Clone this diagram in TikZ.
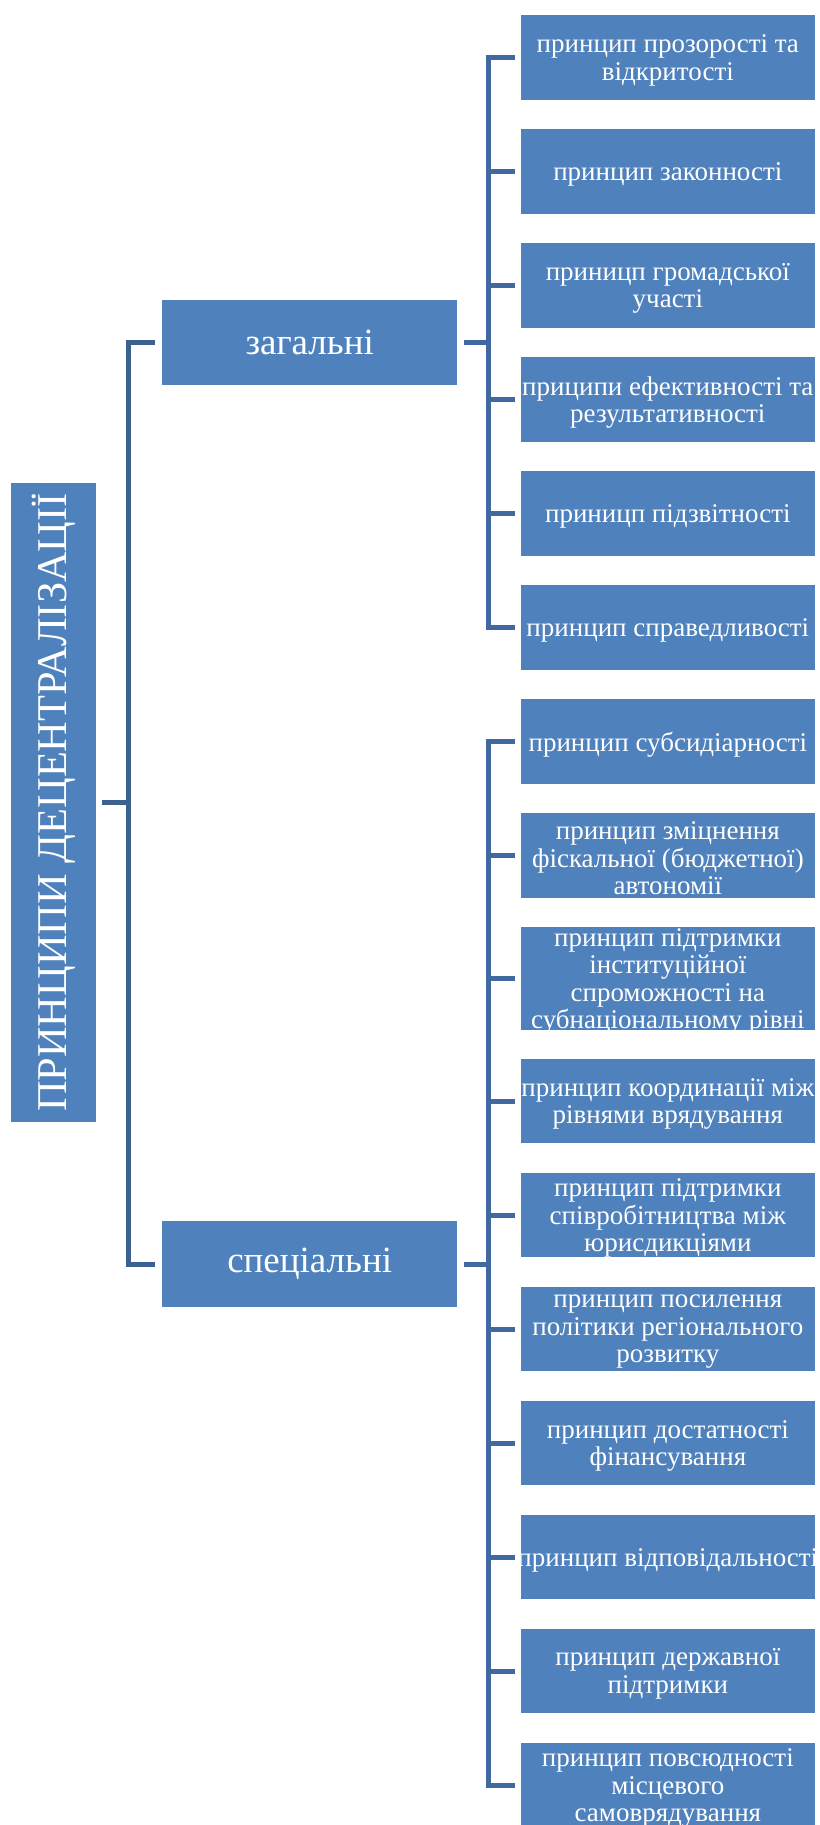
\documentclass[tikz,border=0pt]{standalone}
\usepackage{fontspec}
\setmainfont{Liberation Serif}
\definecolor{boxblue}{HTML}{4F81BD}
\definecolor{connR}{HTML}{41699F}
\definecolor{connL}{HTML}{3C6190}
\begin{document}
\begin{tikzpicture}[x=0.5pt,y=-0.5pt,
  bx/.style={fill=boxblue, draw=white, line width=0.5pt, inner sep=0pt},
  rbox/.style={bx, minimum width=147.15pt, minimum height=42.75pt},
  mbox/.style={bx, minimum width=148pt, minimum height=43.2pt},
  rtext/.style={text=white, align=center, inner sep=0pt, yshift=-1.5pt, font=\fontsize{13.5}{13.75}\selectfont},
  mtext/.style={text=white, align=center, inner sep=0pt, font=\fontsize{18.5}{20}\selectfont},
  roottext/.style={text=white, inner sep=0pt, rotate=90, font=\fontsize{21.2}{23}\selectfont},
  lconn/.style={draw=connL, line width=2.5pt},
  rconn/.style={draw=connR, line width=2.5pt}
]
\useasboundingbox (0,0) rectangle (819,1825);

% root
\node[bx, minimum width=43pt, minimum height=319.8pt] (root) at (53.3,802.5) {};
\node[roottext] at (root) {ПРИНЦИПИ ДЕЦЕНТРАЛІЗАЦІЇ};

% middle level
\node[mbox] (gen) at (309.7,342.5) {};
\node[mtext] at (gen) {загальні};
\node[mbox] (spec) at (309.7,1264) {};
\node[mtext] at (spec) {спеціальні};

% right boxes (general)
\node[rbox] (r1) at (667.85,57.5) {};
\node[rtext] at (r1) {принцип прозорості та\\відкритості};
\node[rbox] (r2) at (667.85,171.5) {};
\node[rtext] at (r2) {принцип законності};
\node[rbox] (r3) at (667.85,285.5) {};
\node[rtext] at (r3) {приницп громадської\\участі};
\node[rbox] (r4) at (667.85,399.5) {};
\node[rtext] at (r4) {приципи ефективності та\\результативності};
\node[rbox] (r5) at (667.85,513.5) {};
\node[rtext] at (r5) {приницп підзвітності};
\node[rbox] (r6) at (667.85,627.5) {};
\node[rtext] at (r6) {принцип справедливості};

% right boxes (special)
\node[rbox] (r7) at (667.85,741.5) {};
\node[rtext] at (r7) {принцип субсидіарності};
\node[rbox] (r8) at (667.85,855.5) {};
\node[rtext] at (r8) {принцип зміцнення\\фіскальної (бюджетної)\\автономії};
\node[rbox, minimum height=51.65pt] (r9) at (667.85,978.5) {};
\node[rtext] at (r9) {принцип підтримки\\інституційної\\спроможності на\\субнаціональному рівні};
\node[rbox] (r10) at (667.85,1101) {};
\node[rtext] at (r10) {принцип координації між\\рівнями врядування};
\node[rbox] (r11) at (667.85,1215) {};
\node[rtext] at (r11) {принцип підтримки\\співробітництва між\\юрисдикціями};
\node[rbox] (r12) at (667.85,1329) {};
\node[rtext] at (r12) {принцип посилення\\політики регіонального\\розвитку};
\node[rbox] (r13) at (667.85,1443) {};
\node[rtext] at (r13) {принцип достатності\\фінансування};
\node[rbox] (r14) at (667.85,1557) {};
\node[rtext] at (r14) {принцип відповідальності};
\node[rbox] (r15) at (667.85,1671) {};
\node[rtext] at (r15) {принцип державної\\підтримки};
\node[rbox] (r16) at (667.85,1785) {};
\node[rtext] at (r16) {принцип повсюдності\\місцевого\\самоврядування};

% left connectors
\coordinate (lbus) at (128.7,803);
\draw[lconn] ([xshift=2.75pt]root.east) -- (lbus |- root.east);
\draw[lconn] ([xshift=-3pt]gen.west) -| (lbus |- spec.west) -- ([xshift=-3pt]spec.west);

% right connectors
\coordinate (rbus) at (488.5,342.5);
\draw[rconn] ([xshift=2.9pt]gen.east) -- (rbus |- gen.east);
\draw[rconn] ([xshift=-2.75pt]r1.west) -| (rbus |- r6.west) -- ([xshift=-2.75pt]r6.west);
\foreach \k in {2,3,4,5}
  \draw[rconn] ([xshift=-2.75pt]r\k.west) -- (rbus |- r\k.west);

\draw[rconn] ([xshift=2.9pt]spec.east) -- (rbus |- spec.east);
\draw[rconn] ([xshift=-2.75pt]r7.west) -| (rbus |- r16.west) -- ([xshift=-2.75pt]r16.west);
\foreach \k in {8,9,10,11,12,13,14,15}
  \draw[rconn] ([xshift=-2.75pt]r\k.west) -- (rbus |- r\k.west);
\end{tikzpicture}
\end{document}
